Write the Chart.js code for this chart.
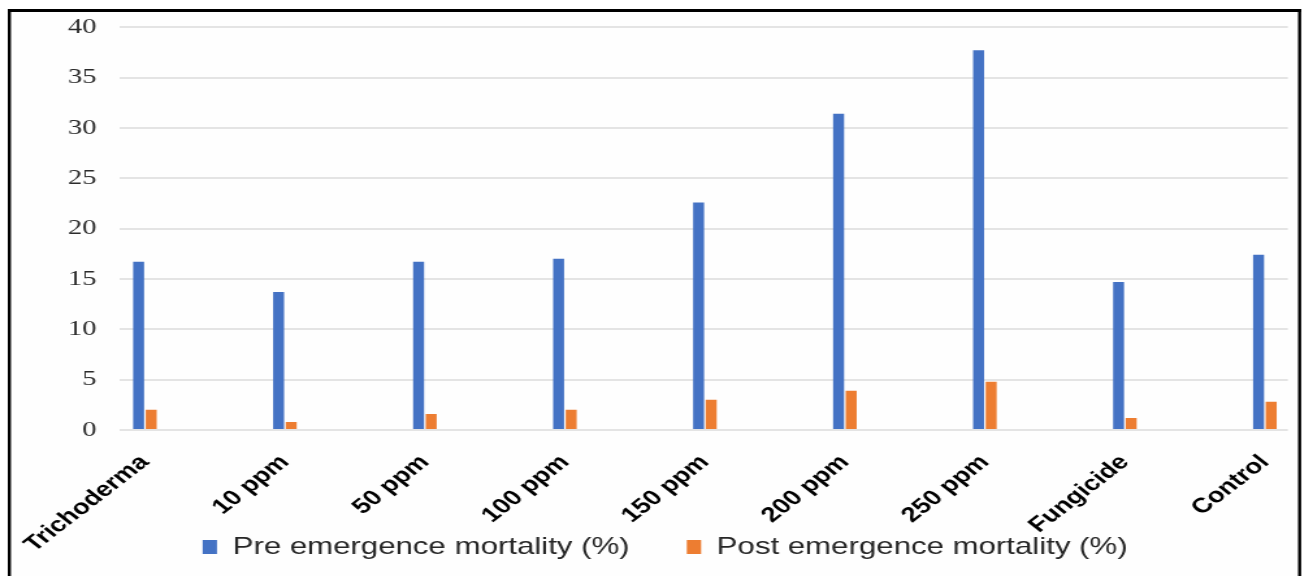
<!DOCTYPE html>
<html>
<head>
<meta charset="utf-8">
<script src="https://cdn.jsdelivr.net/npm/chart.js@4"></script>
<style>
  html, body { margin: 0; padding: 0; background: #ffffff; overflow: hidden; }
  #wrap { width: 1003px; height: 576px; transform: scaleX(1.3); transform-origin: 0 0; }
</style>
</head>
<body>
<div id="wrap"><canvas id="grafico" width="1003" height="576"></canvas></div>
<script>
const treatments = ['Trichoderma', '10 ppm', '50 ppm', '100 ppm', '150 ppm', '200 ppm', '250 ppm', 'Fungicide', 'Control'];
const preMortality = [16.7, 13.7, 16.7, 17.0, 22.6, 31.4, 37.7, 14.7, 17.4];
const postMortality = [2.0, 0.8, 1.6, 2.0, 3.0, 3.9, 4.8, 1.2, 2.8];
const yTicks = [0, 5, 10, 15, 20, 25, 30, 35, 40];

// frame + background
const framePlugin = {
    id: 'frame',
    beforeDraw(chart) {
        const ctx = chart.ctx;
        ctx.save();
        ctx.fillStyle = '#fefefe';
        ctx.fillRect(7, 11, 992, 570);
        ctx.fillStyle = '#000';
        ctx.fillRect(6, 9, 995, 3);
        ctx.fillRect(6, 9, 2.4, 600);
        ctx.fillRect(998.5, 9, 2.4, 600);
        ctx.restore();
    }
};

function initChart() {
    const data = {
        datasets: [{
            label: 'Pre emergence mortality (%)',
            data: preMortality.map((v, i) => ({x: i, y: v})),
            backgroundColor: '#4472C4',
            borderWidth: 0,
        }, {
            label: 'Post emergence mortality (%)',
            data: postMortality.map((v, i) => ({x: i, y: v})),
            backgroundColor: '#ED7D31',
            borderWidth: 0,
        }]
    };

    const config = {
        type: 'bar',
        data: data,
        options: {
            responsive: false,
            animation: false,
            devicePixelRatio: 1,
            categoryPercentage: 0.18,
            barPercentage: 0.87,
            layout: {
                padding: {left: 31, right: 10.7, top: 20, bottom: 7}
            },
            scales: {
                x: {
                    type: 'linear',
                    offset: false,
                    bounds: 'data',
                    min: -0.178,
                    max: 8.164,
                    afterBuildTicks: (s) => { s.ticks = treatments.map((t, i) => ({value: i})); },
                    afterFit: (s) => {
                        s.height = 61;
                        // let the rotated labels run down past the axis box, over the legend area
                        s._computeLabelArea = () => undefined;
                    },
                    grid: {display: false, offset: false},
                    border: {display: false},
                    ticks: {
                        autoSkip: false,
                        minRotation: 45,
                        maxRotation: 45,
                        padding: 12,
                        color: '#000',
                        font: {family: 'Liberation Sans', size: 21, weight: 'bold'},
                        callback: (v) => treatments[v]
                    }
                },
                y: {
                    min: 0,
                    max: 40,
                    afterBuildTicks: (s) => { s.ticks = yTicks.map(v => ({value: v})); },
                    afterFit: (s) => { s.width = 61.3; },
                    grid: {color: '#e4e4e4', lineWidth: 2, tickLength: 4, tickColor: 'rgba(0,0,0,0)'},
                    border: {display: false},
                    ticks: {
                        padding: 14,
                        color: '#2b2b2b',
                        font: {family: 'Liberation Serif', size: 22}
                    }
                }
            },
            plugins: {
                legend: {
                    position: 'bottom',
                    labels: {
                        boxWidth: 11,
                        boxHeight: 14,
                        padding: 44,
                        color: '#262626',
                        font: {family: 'Liberation Sans', size: 24}
                    }
                },
                tooltip: {enabled: false}
            }
        },
        plugins: [framePlugin]
    };

    new Chart(document.getElementById('grafico'), config);
}

initChart();
</script>
</body>
</html>
